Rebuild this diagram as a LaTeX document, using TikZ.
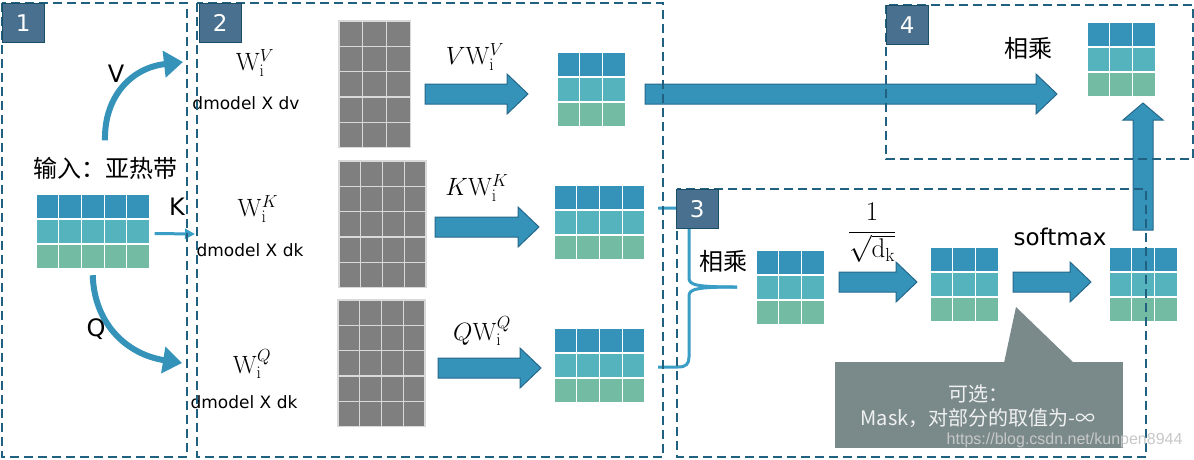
\documentclass[tikz,border=0pt]{standalone}
\usepackage{fix-cm}
\usepackage[no-math]{fontspec}
\setmainfont{DejaVu Sans}
\newfontfamily\cjk{Noto Sans CJK SC}
\newfontfamily\wmfont{Liberation Sans}
\usetikzlibrary{arrows.meta}

\definecolor{rowa}{RGB}{53,146,185}
\definecolor{rowb}{RGB}{85,179,189}
\definecolor{rowc}{RGB}{116,187,163}
\definecolor{cellgray}{RGB}{127,127,127}
\definecolor{boxline}{RGB}{32,96,128}
\definecolor{tagfill}{RGB}{73,112,142}
\definecolor{flowblue}{RGB}{53,146,185}
\definecolor{flowedge}{RGB}{38,104,140}
\definecolor{thinblue}{RGB}{58,157,197}
\definecolor{notefill}{RGB}{122,138,139}

\tikzset{
  groupbox/.style={draw=boxline, line width=2pt, dash pattern=on 9pt off 5pt},
  tagbox/.style={fill=tagfill, draw=boxline!80!black, text=white, anchor=north west,
    minimum width=42pt, minimum height=39pt, inner sep=0pt, font=\fontsize{23}{25}\selectfont},
  flowarrow/.style={fill=flowblue, draw=flowedge, line width=1pt},
  bendarrow/.style={draw=flowblue, line width=6pt, -{Triangle[length=19pt,width=26pt]}},
  thinarrow/.style={draw=thinblue, line width=3pt, -{Triangle[length=10pt,width=10pt]}},
  brace/.style={draw=thinblue, line width=3pt},
  sanslabel/.style={font=\fontsize{24}{28}\selectfont},
  dimlabel/.style={font=\fontsize{17}{19}\selectfont},
  mathlabel/.style={font=\fontsize{25}{28}\selectfont},
  cnlabel/.style={font=\cjk\fontsize{24}{28}\selectfont}
}

% 彩色矩阵：名字, 左, 上, 列数
\newcommand{\colmat}[4]{%
  \foreach \c in {1,...,#4}{
    \foreach \r/\rc in {1/rowa,2/rowb,3/rowc}{
      \filldraw[fill=\rc, draw=white, line width=1.2pt]
        ({#2+(\c-1)*22.7},{#3+(\r-1)*25}) rectangle +(22.7,25);
    }
  }
  \node[inner sep=0pt, minimum width=#4*22.7pt, minimum height=75pt] (#1) at ({#2+#4*11.35},{#3+37.5}) {};
}

% 灰色权重矩阵：名字, 左, 上, 列数, 格宽
\newcommand{\graymat}[5]{%
  \foreach \c in {1,...,#4}{
    \foreach \r in {1,...,5}{
      \filldraw[fill=cellgray, draw=white!85!black, line width=1.2pt]
        ({#2+(\c-1)*#5},{#3+(\r-1)*25.3}) rectangle +(#5,25.3);
    }
  }
  \node[inner sep=0pt, minimum width=#4*#5pt, minimum height=126.5pt] (#1) at ({#2+#4*#5/2},{#3+63.25}) {};
}

% 粗箭头：起点, 箭头起点, 尖端, 中线 y
\newcommand{\bigarrow}[4]{%
  \filldraw[flowarrow] (#1,#4-10) -- (#2,#4-10) -- (#2,#4-20) -- (#3,#4)
    -- (#2,#4+20) -- (#2,#4+10) -- (#1,#4+10) -- cycle;
}

\begin{document}
\begin{tikzpicture}[x=1pt, y=-1pt]
\useasboundingbox (0,0) rectangle (1194,459);

% 第1部分：输入
\colmat{inmat}{36}{194}{5}
\node[cnlabel] (inlabel) at (105,168) {输入：亚热带};
\coordinate (vend) at (183,62);
\coordinate (kend) at (195,234);
\coordinate (qend) at (182,363);
\draw[bendarrow] ([yshift=13pt]inlabel.north) .. controls (104,98) and (130,68) .. (vend);
\draw[thinarrow] ([xshift=5pt,yshift=-2pt]inmat.east) -- (kend);
\draw[bendarrow] ([yshift=-6pt]inmat.south) .. controls (94,322) and (125,354) .. (qend);
\node[sanslabel] (vlab) at (116,74) {V};
\node[sanslabel] (klab) at (177,207) {K};
\node[sanslabel] (qlab) at (96,329) {Q};

% 第2部分：权重矩阵
\node[mathlabel] (wv) at (255,63) {$\mathrm{W}_{\mathrm{i}}^{V}$};
\node[dimlabel] (wvdim) at (246,103) {dmodel X dv};
\node[mathlabel] (wk) at (258,209) {$\mathrm{W}_{\mathrm{i}}^{K}$};
\node[dimlabel] (wkdim) at (250,250) {dmodel X dk};
\node[mathlabel] (wq) at (252,364) {$\mathrm{W}_{\mathrm{i}}^{Q}$};
\node[dimlabel] (wqdim) at (244,402) {dmodel X dk};

\graymat{vw}{339}{21}{3}{23.7}
\graymat{kw}{339}{161}{4}{21.75}
\graymat{qw}{338}{300}{4}{21.75}

\bigarrow{425}{507}{528}{94}
\bigarrow{435}{518}{539}{227}
\bigarrow{438}{520}{541}{368}
\node[mathlabel] (vwv) at (475,57) {$V\mathrm{W}_{\mathrm{i}}^{V}$};
\node[mathlabel] (kwk) at (477,188) {$K\mathrm{W}_{\mathrm{i}}^{K}$};
\node[mathlabel] (qwq) at (482,331) {$Q\mathrm{W}_{\mathrm{i}}^{Q}$};

\colmat{vmat}{557}{52}{3}
\colmat{kmat}{554}{185}{4}
\colmat{qmat}{554}{328}{4}

% 第3部分：相乘、缩放、softmax
\coordinate (ktail) at (658,208);
\coordinate (qtail) at (658,367);
\coordinate (bracetip) at (737,287);
\draw[brace] (ktail) -- (683,208) .. controls (689,208) and (689,211) .. (689,218) -- (689,278)
  .. controls (689,285) and (696,287) .. (bracetip);
\draw[brace] (bracetip) .. controls (696,287) and (689,289) .. (689,296) -- (689,357)
  .. controls (689,364) and (686,367) .. (678,367) -- (qtail);
\node[cnlabel] (mul3) at (723,261) {相乘};
\colmat{qkmat}{756}{250}{3}
\bigarrow{839}{896}{917}{282}
\node[font=\fontsize{27}{30}\selectfont] (scale) at (872,233) {$\displaystyle\frac{1}{\sqrt{\mathrm{d}_{\mathrm{k}}}}$};
\colmat{scmat}{930}{247}{3}
\bigarrow{1013}{1070}{1091}{282}
\node[font=\fontsize{23}{26}\selectfont] (soft) at (1060,237) {softmax};
\colmat{smmat}{1109}{247}{3}

% 提示框
\fill[notefill] (835,362) rectangle (1123,448);
\fill[notefill] (1004,363) -- (1016,307) -- (1074,363) -- cycle;
\node[font=\cjk\fontsize{20}{24}\selectfont, text=white!94!black, align=center] (note) at (978,406)
  {可选：\\Mask，对部分的取值为-∞};

% 第4部分：相乘
\bigarrow{645}{1036}{1057}{94}
\filldraw[flowarrow] (1133,230) -- (1133,120) -- (1123,120) -- (1143,103)
  -- (1163,120) -- (1153,120) -- (1153,230) -- cycle;
\node[cnlabel] (mul4) at (1028,48) {相乘};
\colmat{outmat}{1087}{22}{3}

% 虚线分组框和编号
\draw[groupbox] (2,3) rectangle (187,457);
\draw[groupbox] (197,3) rectangle (663,457);
\draw[groupbox] (677,189) rectangle (1146,457);
\draw[groupbox] (886,5) rectangle (1193,159);
\node[tagbox] (tag1) at (2,3) {1};
\node[tagbox] (tag2) at (199,3) {2};
\node[tagbox] (tag3) at (676,189) {3};
\node[tagbox] (tag4) at (886,5) {4};

\node[font=\wmfont\fontsize{16}{18}\selectfont, text=black!22, anchor=east] (wm) at (1186,440)
  {https://blog.csdn.net/kunpen8944};

\end{tikzpicture}
\end{document}
